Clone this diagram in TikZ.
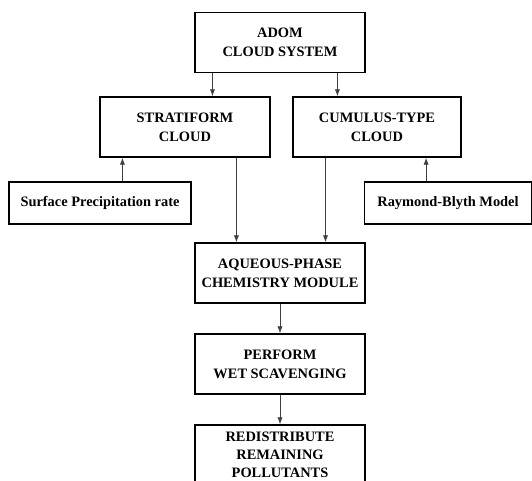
\documentclass[tikz,border=0pt]{standalone}
\usepackage{fontspec}
\setmainfont{Liberation Serif}
\usetikzlibrary{calc,arrows.meta}

\begin{document}
\begin{tikzpicture}[x=0.02cm,y=-0.02cm,
  box/.style={draw, line width=0.8pt, align=center, inner sep=1pt,
    font=\bfseries\fontsize{8.2}{10.8}\selectfont},
  bigbox/.style={box, minimum width=3.4cm, minimum height=1.2cm},
  inbox/.style={box, minimum height=0.84cm},
  arr/.style={-{Latex[length=4pt,width=3pt]}, line width=0.5pt, black!75}]

 \useasboundingbox (0,0) rectangle (532,481);
 \clip (0,0) rectangle (532,481);

 % boxes
 \node[bigbox] (adom) at (280,42.5) {ADOM\\CLOUD SYSTEM};
 \node[bigbox] (strat) at (185,127) {STRATIFORM\\CLOUD};
 \node[bigbox, minimum width=3.36cm] (cumu) at (377,127) {CUMULUS-TYPE\\CLOUD};
 \node[inbox, minimum width=3.64cm] (surf) at (100,203) {Surface Precipitation rate};
 \node[inbox, minimum width=3.34cm] (ray) at (448,203) {Raymond-Blyth Model};
 \node[bigbox] (aq) at (280,273) {AQUEOUS-PHASE\\CHEMISTRY MODULE};
 \node[bigbox] (wet) at (280,364) {PERFORM\\WET SCAVENGING};
 \node[bigbox, font=\bfseries\fontsize{8.2}{10.2}\selectfont] (redis) at (280,455)
   {REDISTRIBUTE\\REMAINING\\POLLUTANTS};

 % where the arrows leave and meet the boxes
 \coordinate (a1) at ($(adom.south west)!0.106!(adom.south east)$);
 \coordinate (a2) at ($(adom.south west)!0.835!(adom.south east)$);
 \coordinate (s1) at ($(strat.south west)!0.135!(strat.south east)$);
 \coordinate (s2) at ($(strat.south west)!0.8!(strat.south east)$);
 \coordinate (c1) at ($(cumu.south west)!0.196!(cumu.south east)$);
 \coordinate (c2) at ($(cumu.south west)!0.79!(cumu.south east)$);

 \draw[arr] (a1) -- (a1 |- strat.north);
 \draw[arr] (a2) -- (a2 |- cumu.north);
 \draw[arr] (surf.north -| s1) -- (s1);
 \draw[arr] (ray.north -| c2) -- (c2);
 \draw[arr] (s2) -- (s2 |- aq.north);
 \draw[arr] (c1) -- (c1 |- aq.north);
 \draw[arr] (aq) -- (wet);
 \draw[arr] (wet) -- (redis);

\end{tikzpicture}
\end{document}
